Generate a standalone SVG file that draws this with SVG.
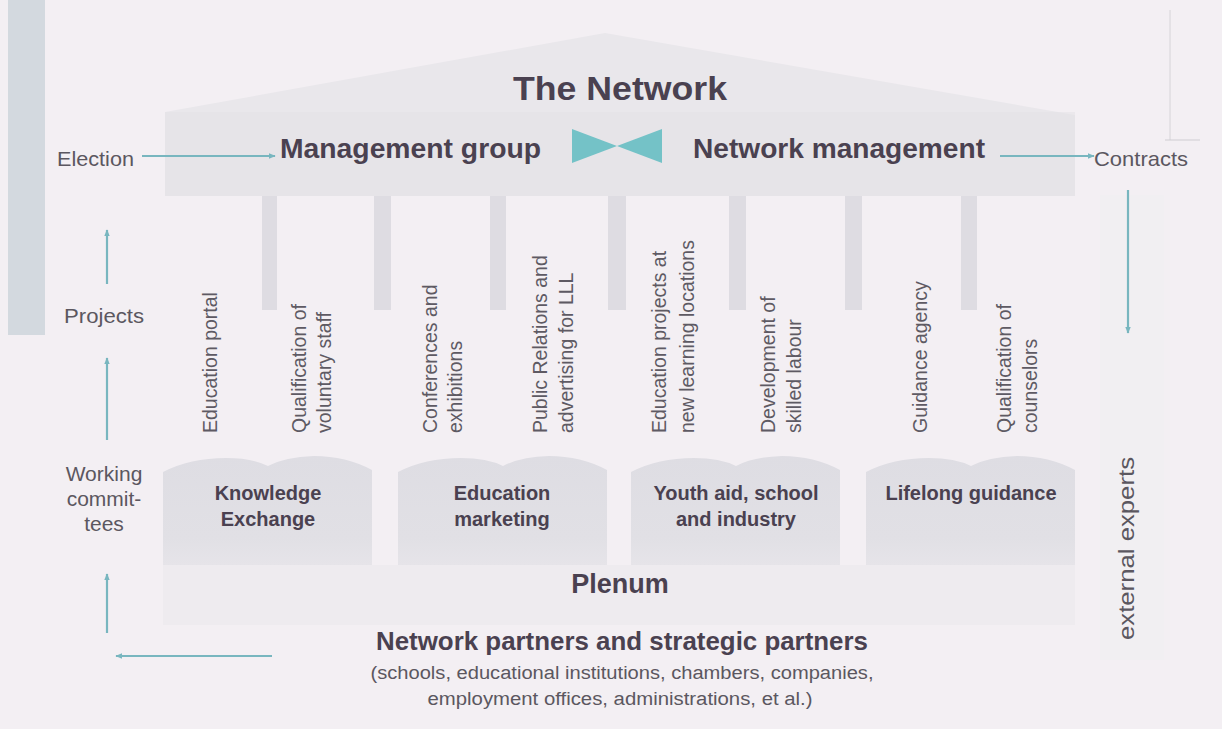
<svg xmlns="http://www.w3.org/2000/svg" width="1222" height="729" viewBox="0 0 1222 729">
<defs>
<style>
.t{font-family:"Liberation Sans",Arial,sans-serif;fill:#4a4150}
.b{font-weight:bold}
.s{font-family:"Liberation Sans",Arial,sans-serif;fill:#5b5760}
.c{font-family:"Liberation Sans",Arial,sans-serif;fill:#5e5a63;font-size:19.5px}
.ar{stroke:#78b6bf;stroke-width:2.2;fill:none}
.stripe{fill:#dedce2}
</style>
<marker id="ah" viewBox="0 0 10 10" refX="9" refY="5" markerWidth="7" markerHeight="7" orient="auto" markerUnits="userSpaceOnUse">
<path d="M0,1 L10,5 L0,9 Z" fill="#78b6bf"/>
</marker>
<linearGradient id="bg" x1="0" y1="0" x2="0" y2="1">
<stop offset="0" stop-color="#dedde3"/>
<stop offset="0.75" stop-color="#e1e0e5"/>
<stop offset="1" stop-color="#e6e4e9"/>
</linearGradient>
</defs>
<rect width="1222" height="729" fill="#f3eff3"/>
<rect x="8" y="0" width="37" height="335" fill="#d3d9df"/>
<rect x="1100" y="195" width="64" height="465" fill="#f1eff2"/>
<line x1="1170" y1="10" x2="1170" y2="140" stroke="#d6d4d8" stroke-width="1"/>
<line x1="1165" y1="140" x2="1200" y2="140" stroke="#cfcdd2" stroke-width="1"/>

<g id="building">
<polygon points="165,112 605,33 1075,115 1075,196 165,196" fill="#e9e7eb"/>
<rect x="165" y="112" width="910" height="84" fill="#e3e1e6" opacity="0.5"/>
<rect class="stripe" x="262" y="196" width="15" height="114"/>
<rect class="stripe" x="374" y="196" width="17" height="114"/>
<rect class="stripe" x="490" y="196" width="16" height="114"/>
<rect class="stripe" x="608" y="196" width="18" height="114"/>
<rect class="stripe" x="729" y="196" width="17" height="114"/>
<rect class="stripe" x="845" y="196" width="17" height="114"/>
<rect class="stripe" x="961" y="196" width="16" height="114"/>
<rect x="163" y="565" width="912" height="60" fill="#eeebef"/>
</g>

<g id="network">
<text class="t b" x="620" y="100" font-size="34" text-anchor="middle" textLength="214" lengthAdjust="spacingAndGlyphs">The Network</text>
</g>
<g id="management-group">
<text class="t b" x="280" y="158" font-size="28" textLength="261" lengthAdjust="spacingAndGlyphs">Management group</text>
</g>
<g id="bowtie">
<polygon points="572,129 617,146 572,163" fill="#74c2c7"/>
<polygon points="662,129 617,146 662,163" fill="#74c2c7"/>
</g>
<g id="network-management">
<text class="t b" x="693" y="158" font-size="28" textLength="292" lengthAdjust="spacingAndGlyphs">Network management</text>
</g>

<g id="election"><text class="s" x="57" y="166" font-size="21" textLength="77" lengthAdjust="spacingAndGlyphs">Election</text></g>
<g id="contracts"><text class="s" x="1094" y="166" font-size="21" textLength="94" lengthAdjust="spacingAndGlyphs">Contracts</text></g>
<g id="projects"><text class="s" x="64" y="323" font-size="21" textLength="80" lengthAdjust="spacingAndGlyphs">Projects</text></g>
<g id="working-committees">
<text class="s" x="104" y="481" font-size="21" text-anchor="middle">Working</text>
<text class="s" x="104" y="506" font-size="21" text-anchor="middle">commit-</text>
<text class="s" x="104" y="531" font-size="21" text-anchor="middle">tees</text>
</g>
<g id="external-experts"><text class="s" transform="translate(1134,640) rotate(-90)" font-size="22" textLength="183" lengthAdjust="spacingAndGlyphs">external experts</text></g>

<g id="projects-columns">
<text class="c" transform="translate(217,433) rotate(-90)">Education portal</text>
<text class="c" transform="translate(306,433) rotate(-90)">Qualification of</text>
<text class="c" transform="translate(331,433) rotate(-90)">voluntary staff</text>
<text class="c" transform="translate(437,433) rotate(-90)">Conferences and</text>
<text class="c" transform="translate(462,433) rotate(-90)">exhibitions</text>
<text class="c" transform="translate(547,433) rotate(-90)">Public Relations and</text>
<text class="c" transform="translate(573,433) rotate(-90)">advertising for LLL</text>
<text class="c" transform="translate(666,433) rotate(-90)">Education projects at</text>
<text class="c" transform="translate(694,433) rotate(-90)">new learning locations</text>
<text class="c" transform="translate(775,433) rotate(-90)">Development of</text>
<text class="c" transform="translate(801,433) rotate(-90)">skilled labour</text>
<text class="c" transform="translate(927,433) rotate(-90)">Guidance agency</text>
<text class="c" transform="translate(1011,433) rotate(-90)">Qualification of</text>
<text class="c" transform="translate(1037,433) rotate(-90)">counselors</text>
</g>

<g id="knowledge-exchange">
<path style="fill:url(#bg)" d="M163,472 Q190,458 226,458 Q252,458 268,466 Q285,457 314,456 Q346,456 372,470 L372,565 L163,565 Z"/>
<text class="t b" x="268" y="500" font-size="20" text-anchor="middle">Knowledge</text>
<text class="t b" x="268" y="526" font-size="20" text-anchor="middle">Exchange</text>
</g>
<g id="education-marketing">
<path style="fill:url(#bg)" d="M398,472 Q425,458 461,458 Q487,458 503,466 Q520,457 549,456 Q581,456 607,470 L607,565 L398,565 Z"/>
<text class="t b" x="502" y="500" font-size="20" text-anchor="middle">Education</text>
<text class="t b" x="502" y="526" font-size="20" text-anchor="middle">marketing</text>
</g>
<g id="youth-aid">
<path style="fill:url(#bg)" d="M631,472 Q658,458 694,458 Q720,458 736,466 Q753,457 782,456 Q814,456 840,470 L840,565 L631,565 Z"/>
<text class="t b" x="736" y="500" font-size="20" text-anchor="middle">Youth aid, school</text>
<text class="t b" x="736" y="526" font-size="20" text-anchor="middle">and industry</text>
</g>
<g id="lifelong-guidance">
<path style="fill:url(#bg)" d="M866,472 Q893,458 929,458 Q955,458 971,466 Q988,457 1017,456 Q1049,456 1075,470 L1075,565 L866,565 Z"/>
<text class="t b" x="971" y="500" font-size="20" text-anchor="middle">Lifelong guidance</text>
</g>

<g id="plenum">
<text class="t b" x="620" y="593" font-size="27" text-anchor="middle">Plenum</text>
</g>
<g id="partners">
<text class="t b" x="622" y="650" font-size="25" text-anchor="middle" textLength="492" lengthAdjust="spacingAndGlyphs">Network partners and strategic partners</text>
<text class="s" x="622" y="679" font-size="18" text-anchor="middle" textLength="503" lengthAdjust="spacingAndGlyphs">(schools, educational institutions, chambers, companies,</text>
<text class="s" x="620" y="705" font-size="18" text-anchor="middle" textLength="385" lengthAdjust="spacingAndGlyphs">employment offices, administrations, et al.)</text>
</g>

<g id="connectors">
<line class="ar" x1="142" y1="156" x2="275" y2="156" marker-end="url(#ah)"/>
<line class="ar" x1="1000" y1="156" x2="1094" y2="156" marker-end="url(#ah)"/>
<line class="ar" x1="1128" y1="190" x2="1128" y2="333" marker-end="url(#ah)"/>
<line class="ar" x1="107" y1="284" x2="107" y2="230" marker-end="url(#ah)"/>
<line class="ar" x1="107" y1="440" x2="107" y2="358" marker-end="url(#ah)"/>
<line class="ar" x1="107" y1="633" x2="107" y2="574" marker-end="url(#ah)"/>
<line class="ar" x1="272" y1="656" x2="116" y2="656" marker-end="url(#ah)"/>
</g>
</svg>
